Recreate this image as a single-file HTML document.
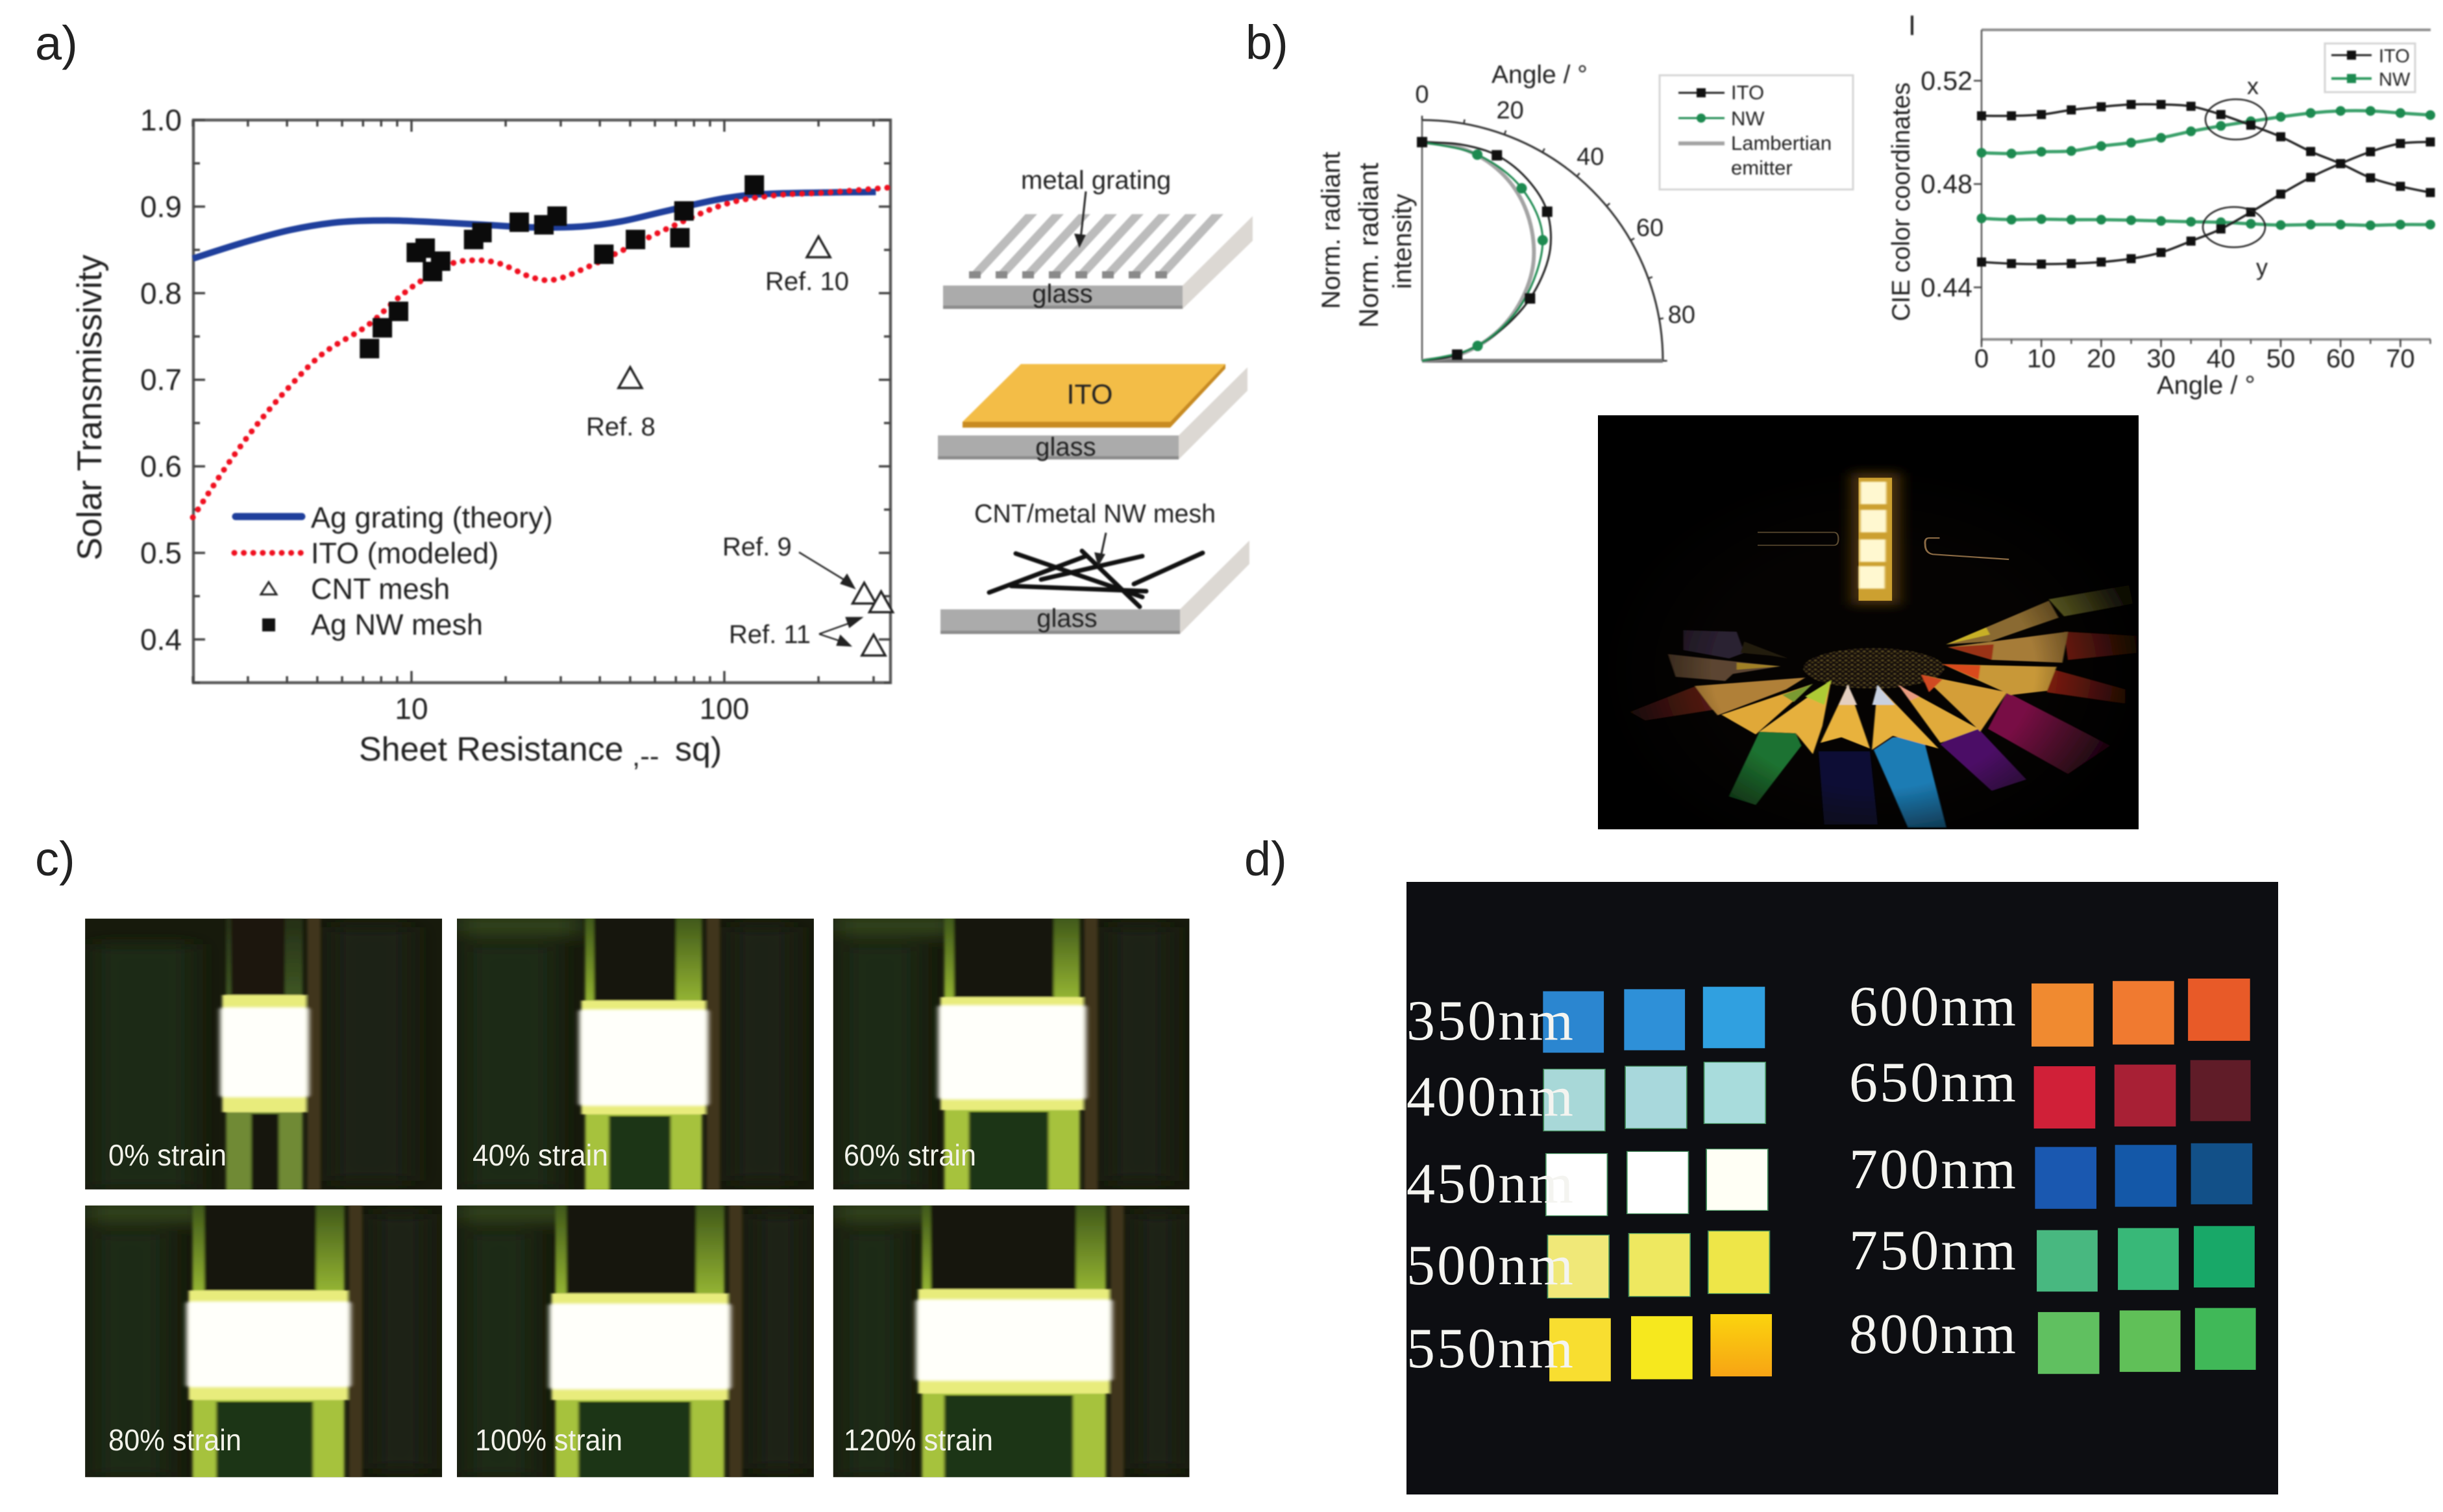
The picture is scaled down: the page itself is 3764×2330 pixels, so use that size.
<!DOCTYPE html>
<html lang="en">
<head>
<meta charset="utf-8">
<title>Transparent electrode figure panels a to d</title>
<style>
html,body{margin:0;padding:0;background:#fff;width:3764px;height:2330px;overflow:hidden}
svg{display:block}
text{font-family:"Liberation Sans",sans-serif;fill:#222}
.soft{filter:blur(1px)}
</style>
</head>
<body>
<svg id="figure" xmlns="http://www.w3.org/2000/svg" width="3764" height="2330" viewBox="0 0 3764 2330">
<defs>
<filter id="b2" x="-10%" y="-10%" width="120%" height="120%"><feGaussianBlur stdDeviation="2"/></filter>
<filter id="b3" x="-20%" y="-20%" width="140%" height="140%"><feGaussianBlur stdDeviation="3"/></filter>
<filter id="b5" x="-30%" y="-30%" width="160%" height="160%"><feGaussianBlur stdDeviation="5"/></filter>
<filter id="b10" x="-50%" y="-50%" width="200%" height="200%"><feGaussianBlur stdDeviation="10"/></filter>
<filter id="b18" x="-60%" y="-60%" width="220%" height="220%"><feGaussianBlur stdDeviation="18"/></filter>
<clipPath id="clip-led"><rect x="2462" y="640" width="833" height="638"/></clipPath>
<pattern id="beads" width="16" height="16" patternUnits="userSpaceOnUse"><rect width="16" height="16" fill="#14100a"/><circle cx="5" cy="5" r="3.2" fill="#5a4c20"/><circle cx="13" cy="12" r="3.2" fill="#463a16"/></pattern>
<linearGradient id="amber" x1="0" y1="0" x2="0" y2="1"><stop offset="0" stop-color="#fbd40e"/><stop offset="1" stop-color="#f7a414"/></linearGradient>
<linearGradient id="lime-top" x1="0" y1="0" x2="0" y2="1"><stop offset="0" stop-color="#3c5418"/><stop offset="1" stop-color="#93b332"/></linearGradient>
<linearGradient id="lime-top-dim" x1="0" y1="0" x2="0" y2="1"><stop offset="0" stop-color="#232c16"/><stop offset="1" stop-color="#3e5622"/></linearGradient>
<radialGradient id="photo-fade" gradientUnits="userSpaceOnUse" cx="830" cy="950" r="730"><stop offset="0" stop-color="#050302" stop-opacity="0"/><stop offset=".58" stop-color="#050302" stop-opacity="0"/><stop offset=".98" stop-color="#050302" stop-opacity=".96"/></radialGradient>
</defs>
<rect width="3764" height="2330" fill="#fff"/>

<g>
<text x="54" y="92" font-size="74" fill="#111">a)</text>
<text x="1919" y="91" font-size="74" fill="#111">b)</text>
<text x="54" y="1349" font-size="74" fill="#111">c)</text>
<text x="1917" y="1349" font-size="74" fill="#111">d)</text>
</g>

<!-- Panel a chart -->
<g id="chart-a" class="soft"></g>
<g class="soft">
<text transform="translate(156 628) rotate(-90)" text-anchor="middle" font-size="53" fill="#333">Solar Transmissivity</text>
<text x="553" y="1172" font-size="52" fill="#333">Sheet Resistance</text>
<text x="974" y="1180" font-size="44" fill="#444">,--</text>
<text x="1040" y="1172" font-size="52" fill="#333">sq)</text>
<text x="479" y="813" font-size="45" fill="#333">Ag grating (theory)</text>
<text x="479" y="868" font-size="45" fill="#333">ITO (modeled)</text>
<text x="479" y="923" font-size="45" fill="#333">CNT mesh</text>
<text x="479" y="978" font-size="45" fill="#333">Ag NW mesh</text>
<line x1="363" y1="796" x2="465" y2="796" stroke="#1f3f9c" stroke-width="11" stroke-linecap="round"/>
<line x1="361" y1="852" x2="466" y2="852" stroke="#f01020" stroke-width="9" stroke-dasharray="0.1 14.5" stroke-linecap="round"/>
<polygon points="414,897 402,916 426,916" fill="none" stroke="#222" stroke-width="3"/>
<rect x="404" y="953" width="20" height="20" fill="#111"/>
<text x="1179" y="447" font-size="40" fill="#333">Ref. 10</text>
<text x="903" y="671" font-size="40" fill="#333">Ref. 8</text>
<text x="1113" y="856" font-size="40" fill="#333">Ref. 9</text>
<text x="1123" y="991" font-size="40" fill="#333">Ref. 11</text>
<g stroke="#222" stroke-width="2.5" fill="#222">
<line x1="1231" y1="851" x2="1308" y2="898"/><polygon points="1316,906 1296,899 1305,886"/>
<line x1="1262" y1="977" x2="1318" y2="957"/><polygon points="1327,952 1309,966 1304,952"/>
<line x1="1262" y1="977" x2="1301" y2="990"/><polygon points="1310,995 1290,994 1295,980"/>
</g>
</g>

<!-- Schematics -->
<g class="soft">
<g>
<polygon points="1822,440 1930,333 1930,371 1822,476" fill="#dcd8d3"/>
<rect x="1453" y="440" width="369" height="36" fill="#ababab"/>
<rect x="1453" y="471" width="369" height="5" fill="#8c8c8c"/>
<g id="grating-bars"></g>
<text x="1573" y="291" font-size="40" fill="#333">metal grating</text>
<line x1="1673" y1="295" x2="1665" y2="368" stroke="#222" stroke-width="3"/><polygon points="1663,382 1655,360 1673,362" fill="#222"/>
<text x="1637" y="466" text-anchor="middle" font-size="40" fill="#222">glass</text>
</g>
<g>
<polygon points="1816,671 1922,566 1922,602 1816,708" fill="#dcd8d3"/>
<rect x="1445" y="671" width="371" height="37" fill="#ababab"/>
<rect x="1445" y="703" width="371" height="5" fill="#8c8c8c"/>
<polygon points="1483,650 1573,561 1888,561 1803,650" fill="#f3bd47"/>
<polygon points="1483,650 1803,650 1888,561 1888,568 1803,659 1483,659" fill="#c88b22"/>
<text x="1679" y="622" text-anchor="middle" font-size="43" fill="#333">ITO</text>
<text x="1642" y="702" text-anchor="middle" font-size="40" fill="#222">glass</text>
</g>
<g>
<polygon points="1818,939 1925,833 1925,869 1818,977" fill="#dcd8d3"/>
<rect x="1449" y="939" width="369" height="38" fill="#ababab"/>
<rect x="1449" y="972" width="369" height="5" fill="#8c8c8c"/>
<g stroke="#111" stroke-width="7" stroke-linecap="round">
<line x1="1565" y1="853" x2="1760" y2="920"/><line x1="1524" y1="913" x2="1673" y2="857"/><line x1="1558" y1="903" x2="1766" y2="911"/><line x1="1604" y1="893" x2="1760" y2="857"/><line x1="1667" y1="849" x2="1756" y2="935"/><line x1="1747" y1="900" x2="1853" y2="852"/>
</g>
<text x="1501" y="805" font-size="39.4" fill="#333">CNT/metal NW mesh</text>
<line x1="1704" y1="821" x2="1696" y2="858" stroke="#222" stroke-width="3"/><polygon points="1692,873 1686,851 1703,854" fill="#222"/>
<text x="1644" y="966" text-anchor="middle" font-size="40" fill="#222">glass</text>
</g>
</g>

<!-- Panel b polar -->
<g id="chart-polar" class="soft"></g>
<g class="soft" fill="#333">
<text x="2298" y="128" font-size="39" fill="#333">Angle / °</text>
<text transform="translate(2064 355) rotate(-90)" text-anchor="middle" font-size="40" fill="#333">Norm. radiant</text>
<text transform="translate(2123 378) rotate(-90)" text-anchor="middle" font-size="42" fill="#333">Norm. radiant</text>
<text transform="translate(2174 372) rotate(-90)" text-anchor="middle" font-size="40" fill="#333">intensity</text>
<rect x="2557" y="116" width="298" height="176" fill="#fff" stroke="#d5d5d5" stroke-width="3"/>
<line x1="2586" y1="143" x2="2657" y2="143" stroke="#222" stroke-width="3"/>
<rect x="2614" y="136" width="14" height="14" fill="#111"/>
<line x1="2586" y1="182" x2="2657" y2="182" stroke="#1d8a50" stroke-width="3"/>
<circle cx="2621" cy="182" r="7" fill="#1d8a50"/>
<line x1="2586" y1="221" x2="2657" y2="221" stroke="#a3a3a3" stroke-width="6"/>
<text x="2667" y="153" font-size="31" fill="#333">ITO</text>
<text x="2667" y="193" font-size="31" fill="#333">NW</text>
<text x="2667" y="231" font-size="31" fill="#333">Lambertian</text>
<text x="2667" y="269" font-size="31" fill="#333">emitter</text>
</g>

<!-- Panel b CIE -->
<g id="chart-cie" class="soft"></g>
<g class="soft">
<rect x="2944" y="24" width="4" height="30" fill="#222"/>
<text transform="translate(2942 311) rotate(-90)" text-anchor="middle" font-size="38.5" fill="#333">CIE color coordinates</text>
<text x="3323" y="607" font-size="40" fill="#333">Angle / °</text>
<ellipse cx="3445" cy="184" rx="47" ry="31" fill="none" stroke="#222" stroke-width="2.5"/>
<ellipse cx="3442" cy="350" rx="48" ry="31" fill="none" stroke="#222" stroke-width="2.5"/>
<text x="3471" y="145" text-anchor="middle" font-size="36" fill="#333">x</text>
<text x="3485" y="424" text-anchor="middle" font-size="36" fill="#333">y</text>
<rect x="3582" y="67" width="139" height="75" fill="#fff" stroke="#d5d5d5" stroke-width="3"/>
<line x1="3592" y1="85" x2="3654" y2="85" stroke="#222" stroke-width="3"/>
<rect x="3616" y="78" width="14" height="14" fill="#111"/>
<line x1="3592" y1="121" x2="3654" y2="121" stroke="#2f9a60" stroke-width="4"/>
<rect x="3616" y="114" width="14" height="14" fill="#1d8a50"/>
<text x="3665" y="96" font-size="29" fill="#333">ITO</text>
<text x="3665" y="132" font-size="29" fill="#333">NW</text>
</g>

<!-- Panel b photo -->
<g clip-path="url(#clip-led)">
<rect x="2462" y="640" width="833" height="638" fill="#050302"/>
<g transform="translate(2400 620) scale(.5867 .4337)">
<g filter="url(#b2)">
<ellipse cx="830" cy="945" rx="185" ry="72" fill="url(#beads)"/>
<g><polygon points="330,810 470,815 490,890 450,910 330,880" fill="#2a2030"/><polygon points="490,850 605,910 560,900 480,890" fill="#241a10"/></g>
<g><polygon points="290,895 460,920 585,938 460,965 440,990 310,975" fill="#5c4530"/><polygon points="470,925 585,938 470,950" fill="#a08028"/></g>
<g><polygon points="190,1100 360,1010 420,1090 230,1130" fill="#5a1c14"/><polygon points="650,978 360,1008 400,1080 420,1112 600,1020" fill="#b08038"/></g>
<g><polygon points="670,1000 430,1110 520,1180" fill="#e0a838"/><polygon points="670,1000 590,1040 620,1065" fill="#7a9a30"/></g>
<g><polygon points="530,1170 625,1175 640,1220 520,1430 450,1400" fill="#1e7230"/><polygon points="718,988 530,1170 625,1175 670,1250 695,1150" fill="#e6b03c"/><polygon points="718,988 650,1045 700,1075" fill="#aecb35"/></g>
<g><polygon points="685,1240 820,1240 840,1500 700,1500" fill="#0b1034"/><polygon points="762,1003 690,1210 745,1190 820,1230" fill="#e8b23c"/><polygon points="762,1003 738,1075 786,1075" fill="#e4cfc0"/></g>
<g><polygon points="830,1235 880,1190 960,1190 1020,1510 920,1510" fill="#1c7cb4"/><polygon points="840,1005 825,1235 880,1185 1000,1230" fill="#e6b03c"/><polygon points="840,1005 826,1075 885,1075" fill="#c8d0e0"/></g>
<g><polygon points="1005,1215 1060,1165 1105,1160 1230,1340 1140,1380" fill="#4c1066"/><polygon points="895,1005 1005,1210 1105,1160" fill="#e0aa3a"/><polygon points="895,1005 925,1060 950,1045" fill="#e89a80"/></g>
<g><polygon points="1130,1160 1180,1030 1450,1220 1340,1320" fill="#781044"/><polygon points="955,968 1110,1170 1180,1030" fill="#d49e38"/><polygon points="955,968 1010,985 975,1030" fill="#d04a20"/></g>
<g><polygon points="1290,945 1490,1020 1490,1070 1285,1030" fill="#8c1f10"/><polygon points="1010,930 1310,940 1285,1025 1190,1040" fill="#c89838"/><polygon points="1010,930 1110,935 1105,985" fill="#d8481c"/></g>
<g><polygon points="1330,815 1520,830 1520,890 1340,915" fill="#8a2210"/><polygon points="1025,870 1340,815 1325,925 1140,915" fill="#a67c38"/><polygon points="1025,870 1145,860 1140,915" fill="#9a3012"/></g>
<g><polygon points="1290,700 1500,650 1510,715 1330,760" fill="#7a7a2c"/><polygon points="1020,860 1290,705 1315,765 1135,850" fill="#8a6a30"/><polygon points="1020,860 1125,800 1135,825" fill="#c8b028"/></g>
<rect x="100" y="45" width="1430" height="1480" fill="url(#photo-fade)"/>
</g>
<rect x="770" y="250" width="130" height="470" fill="#4a3008" filter="url(#b18)"/>
<rect x="790" y="268" width="88" height="437" fill="#cca030"/>
<g filter="url(#b3)">
<rect x="795" y="282" width="68" height="80" fill="#fff8d0"/>
<rect x="795" y="382" width="68" height="80" fill="#fff8d0"/>
<rect x="793" y="487" width="68" height="80" fill="#fff8d0"/>
<rect x="791" y="582" width="68" height="80" fill="#fff8d0"/>
</g>
<path d="M525 462H725Q737 462 737 485Q737 508 725 508H525" fill="none" stroke="#5a4a30" stroke-width="4"/>
<path d="M1003 482H975Q963 482 965 505Q965 535 985 540L1185 558" fill="none" stroke="#8a6a44" stroke-width="5"/>
</g>
</g>

<!-- Panel c -->
<g id="strain-photos"></g>

<!-- Panel d -->
<g>
<rect x="2167" y="1359" width="1343" height="944" fill="#0d0e12"/>
<g id="swatches" transform="translate(2130 1340) scale(.8929 .6314)"></g>
<g id="wave-labels"></g>
</g>
</svg>

<script>
var NS = 'http://www.w3.org/2000/svg';
function mk(tag, attrs, parent) {
  var el = document.createElementNS(NS, tag);
  for (var k in attrs) el.setAttribute(k, attrs[k]);
  parent.appendChild(el);
  return el;
}
function smoothPath(p) {
  var d = 'M' + p[0][0].toFixed(1) + ' ' + p[0][1].toFixed(1);
  for (var i = 0; i < p.length - 1; i++) {
    var a = p[Math.max(i - 1, 0)], b = p[i], c = p[i + 1], e = p[Math.min(i + 2, p.length - 1)];
    d += 'C' + (b[0] + (c[0] - a[0]) / 6).toFixed(1) + ' ' + (b[1] + (c[1] - a[1]) / 6).toFixed(1) + ' ' +
      (c[0] - (e[0] - b[0]) / 6).toFixed(1) + ' ' + (c[1] - (e[1] - b[1]) / 6).toFixed(1) + ' ' +
      c[0].toFixed(1) + ' ' + c[1].toFixed(1);
  }
  return d;
}

/* ===== Panel a data ===== */
var solarYTicks = [0.4, 0.5, 0.6, 0.7, 0.8, 0.9, 1.0];
var solarYLabels = ['0.4', '0.5', '0.6', '0.7', '0.8', '0.9', '1.0'];
var solarXMajor = [10, 100];
var solarXLabels = ['10', '100'];
var solarXMinor = [2, 3, 4, 5, 6, 7, 8, 9, 20, 30, 40, 50, 60, 70, 80, 90, 200, 300];
var agGratingR = [2, 2.87, 4.1, 5.85, 8.4, 11.95, 17.1, 24.4, 34.9, 46.9, 67.1, 101.6, 145, 305];
var agGratingT = [0.84, 0.858, 0.873, 0.882, 0.884, 0.882, 0.879, 0.876, 0.877, 0.883, 0.896, 0.91, 0.915, 0.917];
var itoR = [2, 2.57, 3.22, 4.05, 5.2, 7.19, 8.9, 10.6, 13.4, 16.1, 19.2, 24.4, 29, 37, 47, 67, 101, 145, 207, 335];
var itoT = [0.541, 0.601, 0.649, 0.691, 0.73, 0.762, 0.792, 0.813, 0.834, 0.838, 0.834, 0.818, 0.816, 0.831, 0.849, 0.876, 0.903, 0.913, 0.916, 0.922];
var cntR = [200, 50, 280, 317, 300];
var cntT = [0.852, 0.701, 0.452, 0.442, 0.392];
var nwR = [7.34, 8.07, 9.09, 10.36, 11.06, 11.67, 12.39, 15.8, 16.8, 22.1, 26.5, 29.2, 41.2, 52, 72.1, 74.3, 124.7];
var nwT = [0.736, 0.76, 0.779, 0.847, 0.852, 0.825, 0.837, 0.862, 0.87, 0.882, 0.879, 0.889, 0.845, 0.862, 0.864, 0.895, 0.925];

/* ===== Polar data ===== */
var polarTickAngles = [0, 10, 20, 30, 40, 50, 60, 70, 80, 90];
var polarLabelAngles = ['0', '20', '40', '60', '80'];
var itoPolarAngle = [0, 10, 20, 30, 40, 50, 60, 70, 80, 90];
var itoPolarValue = [1, 1.005, 1, 0.96, 0.89, 0.76, 0.57, 0.36, 0.163, 0];
var itoPolarMarkers = [0, 20, 40, 60, 80];
var nwPolarAngle = [0, 15, 30, 45, 60, 75, 90];
var nwPolarValue = [1, 0.976, 0.911, 0.78, 0.53, 0.263, 0];
var nwPolarMarkers = [15, 30, 45, 75];
var lambertAngle = [0, 10, 20, 30, 40, 50, 60, 70, 80, 90];
var lambertValue = [1, 0.99, 0.95, 0.88, 0.78, 0.66, 0.51, 0.35, 0.18, 0];

/* ===== CIE data ===== */
var cieAngles = [0, 5, 10, 15, 20, 25, 30, 35, 40, 45, 50, 55, 60, 65, 70, 75];
var cieXTicks = [0, 10, 20, 30, 40, 50, 60, 70];
var cieYTicks = [0.44, 0.48, 0.52];
var cieYLabels = ['0.44', '0.48', '0.52'];
var itoX = [0.5064, 0.5064, 0.5069, 0.5087, 0.5099, 0.5108, 0.5108, 0.5101, 0.5069, 0.5028, 0.4983, 0.4926, 0.4879, 0.4824, 0.4791, 0.4767];
var itoY = [0.4498, 0.4492, 0.449, 0.4492, 0.4498, 0.4511, 0.4535, 0.4579, 0.4626, 0.4691, 0.4761, 0.4826, 0.4879, 0.4925, 0.4957, 0.4963];
var nwX = [0.4921, 0.4918, 0.4925, 0.4928, 0.4947, 0.496, 0.4979, 0.5004, 0.5025, 0.5043, 0.506, 0.5075, 0.5083, 0.5083, 0.5075, 0.5067];
var nwY = [0.4667, 0.4662, 0.4664, 0.4662, 0.4662, 0.466, 0.4657, 0.4654, 0.4652, 0.4646, 0.4641, 0.4643, 0.4643, 0.464, 0.4643, 0.4643];

/* ---- Panel a axis functions ---- */
function aX(r) { return 634 + (Math.log10(r) - 1) * 482; }
function aY(t) { return 185 + (1 - t) * 1334; }
function pairs(xs, ys, fx, fy) {
  return xs.map(function (v, i) { return [fx(v), fy(ys[i])]; });
}
(function () {
  var g = document.getElementById('chart-a');
  var frame = mk('rect', { x: 298, y: 185, width: 1074, height: 867, fill: 'none', stroke: '#5a5a5a', 'stroke-width': 4.5 }, g);
  
  
  function tick(x1, y1, x2, y2, name) {
    var t = mk('line', { x1: x1, y1: y1, x2: x2, y2: y2, stroke: '#444', 'stroke-width': 3.5 }, g);
    
    
  }
  solarXMajor.forEach(function (v, i) {
    tick(aX(v), 1052, aX(v), 1034, 'x-major-tick');
    tick(aX(v), 185, aX(v), 203, 'x-major-tick-top');
    var l = mk('text', { x: aX(v), y: 1108, 'text-anchor': 'middle', 'font-size': 46, fill: '#333' }, g);
    l.textContent = solarXLabels[i];
    
    
  });
  solarXMinor.forEach(function (v) {
    tick(aX(v), 1052, aX(v), 1042, 'x-minor-tick');
    tick(aX(v), 185, aX(v), 195, 'x-minor-tick-top');
  });
  solarYTicks.forEach(function (v, i) {
    tick(298, aY(v), 316, aY(v), 'y-major-tick');
    tick(1372, aY(v), 1354, aY(v), 'y-major-tick-right');
    tick(298, aY(v - 0.05), 308, aY(v - 0.05), 'y-minor-tick');
    tick(1372, aY(v - 0.05), 1362, aY(v - 0.05), 'y-minor-tick-right');
    var l = mk('text', { x: 280, y: aY(v) + 16, 'text-anchor': 'end', 'font-size': 46, fill: '#333' }, g);
    l.textContent = solarYLabels[i];
    
    
  });
  var ag = mk('path', { d: smoothPath(pairs(agGratingR, agGratingT, aX, aY)), fill: 'none', stroke: '#1f3f9c', 'stroke-width': 10 }, g);
  
  
  var ito = mk('path', { d: smoothPath(pairs(itoR, itoT, aX, aY)), fill: 'none', stroke: '#f01020', 'stroke-width': 9, 'stroke-dasharray': '0.1 14.5', 'stroke-linecap': 'round' }, g);
  
  
  nwR.forEach(function (r, i) {
    var s = mk('rect', { x: aX(r) - 15, y: aY(nwT[i]) - 15, width: 30, height: 30, fill: '#0b0b0b' }, g);
    
    
  });
  cntR.forEach(function (r, i) {
    var x = aX(r), y = aY(cntT[i]);
    var t = mk('polygon', { points: x + ',' + (y - 18) + ' ' + (x - 18) + ',' + (y + 14) + ' ' + (x + 18) + ',' + (y + 14), fill: '#fff', stroke: '#222', 'stroke-width': 3.5 }, g);
    
    
  });
})();

/* Grating bars */
(function () {
  var g = document.getElementById('grating-bars');
  for (var i = 0; i < 8; i++) {
    var bx = 1493 + 41 * i, tx = 1580 + 41 * i;
    var bar = mk('polygon', { points: bx + ',424 ' + (bx + 18) + ',424 ' + (tx + 18) + ',330 ' + tx + ',330', fill: '#bcbcbc' }, g);
    
    
    var cap = mk('rect', { x: bx, y: 418, width: 18, height: 11, fill: '#8a8a8a' }, g);
    
    
  }
})();

/* ---- Polar axis functions ---- */
function polarPoint(deg, val) {
  var a = deg * Math.PI / 180, r = val * 337;
  return [2191 + r * Math.sin(a), 556 - r * Math.cos(a)];
}
function polarPairs(angles, vals) {
  return angles.map(function (a, i) { return polarPoint(a, vals[i]); });
}
(function () {
  var g = document.getElementById('chart-polar');
  var rim = 371 / 337;
  var arc = mk('path', { d: 'M2191 185A371 371 0 0 1 2562 556', fill: 'none', stroke: '#333', 'stroke-width': 3 }, g);
  
  
  var ax1 = mk('line', { x1: 2191, y1: 185, x2: 2191, y2: 556, stroke: '#555', 'stroke-width': 2.5 }, g);
  
  
  var ax2 = mk('line', { x1: 2191, y1: 556, x2: 2562, y2: 556, stroke: '#777', 'stroke-width': 6 }, g);
  
  
  polarTickAngles.forEach(function (a) {
    var p = polarPoint(a, rim), q = polarPoint(a, rim * 1.018);
    var t = mk('line', { x1: p[0], y1: p[1], x2: q[0], y2: q[1], stroke: '#333', 'stroke-width': 2.5 }, g);
    
    
  });
  polarLabelAngles.forEach(function (lab) {
    var a = Number(lab), p = polarPoint(a, rim * 1.09 + 0.02);
    var t = mk('text', { x: p[0] + (a > 0 ? -5 : 0), y: p[1] + 13, 'text-anchor': 'middle', 'font-size': 38, fill: '#333' }, g);
    t.textContent = lab;
    
    
  });
  var lam = mk('path', { d: smoothPath(polarPairs(lambertAngle, lambertValue)), fill: 'none', stroke: '#a3a3a3', 'stroke-width': 6 }, g);
  
  
  var ito = mk('path', { d: smoothPath(polarPairs(itoPolarAngle, itoPolarValue)), fill: 'none', stroke: '#222', 'stroke-width': 3 }, g);
  
  
  var nw = mk('path', { d: smoothPath(polarPairs(nwPolarAngle, nwPolarValue)), fill: 'none', stroke: '#1d8a50', 'stroke-width': 3 }, g);
  
  
  itoPolarAngle.forEach(function (a, i) {
    if (itoPolarMarkers.indexOf(a) < 0) return;
    var p = polarPoint(a, itoPolarValue[i]);
    var m = mk('rect', { x: p[0] - 8, y: p[1] - 8, width: 16, height: 16, fill: '#111' }, g);
    
    
  });
  nwPolarAngle.forEach(function (a, i) {
    if (nwPolarMarkers.indexOf(a) < 0) return;
    var p = polarPoint(a, nwPolarValue[i]);
    var m = mk('circle', { cx: p[0], cy: p[1], r: 8, fill: '#1d8a50' }, g);
    
    
  });
})();

/* ---- CIE axis functions ---- */
function cX(a) { return 3053 + a * 9.22; }
function cY(v) { return 124.4 + (0.52 - v) * 3980; }
(function () {
  var g = document.getElementById('chart-cie');
  function seg(x1, y1, x2, y2, col, w, name) {
    var t = mk('line', { x1: x1, y1: y1, x2: x2, y2: y2, stroke: col, 'stroke-width': w }, g);
    
    
  }
  seg(3053, 46, 3745, 46, '#8d8d8d', 4, 'cie-top-frame');
  seg(3053, 523, 3745, 523, '#8d8d8d', 4, 'cie-x-axis');
  seg(3053, 46, 3053, 523, '#555', 2.5, 'cie-y-axis');
  cieAngles.forEach(function (a) { seg(cX(a), 523, cX(a), 530, '#555', 2.5, 'cie-x-minor-tick'); });
  cieXTicks.forEach(function (a) {
    seg(cX(a), 523, cX(a), 535, '#444', 2.5, 'cie-x-tick');
    var t = mk('text', { x: cX(a), y: 566, 'text-anchor': 'middle', 'font-size': 40, fill: '#333' }, g);
    t.textContent = String(a);
    
    
  });
  cieYTicks.forEach(function (v, i) {
    seg(3041, cY(v), 3053, cY(v), '#444', 2.5, 'cie-y-tick');
    var t = mk('text', { x: 3039, y: cY(v) + 14, 'text-anchor': 'end', 'font-size': 41, fill: '#333' }, g);
    t.textContent = cieYLabels[i];
    
    
  });
  function series(vals, col, w, shape, name) {
    var l = mk('path', { d: smoothPath(pairs(cieAngles, vals, cX, cY)), fill: 'none', stroke: col, 'stroke-width': w }, g);
    
    
    cieAngles.forEach(function (a, i) {
      var x = cX(a), y = cY(vals[i]), m;
      if (shape === 'sq') m = mk('rect', { x: x - 7, y: y - 7, width: 14, height: 14, fill: '#111' }, g);
      else m = mk('circle', { cx: x, cy: y, r: 7.5, fill: '#1d8a50' }, g);
      
      
    });
  }
  series(nwX, '#3aa06a', 5, 'c', 'nw-x');
  series(nwY, '#3aa06a', 5, 'c', 'nw-y');
  series(itoX, '#222', 3.5, 'sq', 'ito-x');
  series(itoY, '#222', 3.5, 'sq', 'ito-y');
})();

/* ---- Panel c photos (coordinates in crop space) ---- */
var strainLabels = ['0% strain', '40% strain', '60% strain', '80% strain', '100% strain', '120% strain'];
var strainLabelWidths = [182, 209, 204, 205, 227, 230];
var frames = [[62, 541, 176, 811], [561, 1040, 176, 811], [1066, 1544, 176, 811], [62, 541, 849, 1486], [561, 1040, 849, 1486], [1066, 1544, 849, 1486]];
var bright = [[243, 362, 390, 585], [725, 898, 395, 605], [1207, 1405, 385, 590], [198, 418, 1080, 1265], [685, 928, 1085, 1270], [1177, 1440, 1075, 1250]];
var bands = [[355, 630], [368, 635], [360, 625], [1048, 1305], [1055, 1305], [1045, 1290]];
var topCh = [[258, 330], [745, 855], [1228, 1362], [222, 372], [708, 882], [1197, 1392]];
var botCh = [[285, 322], [765, 848], [1248, 1355], [238, 368], [724, 875], [1215, 1388]];
var strainLabelX = [167, 728, 1300, 167, 732, 1300];
var strainLabelY = [1796, 1796, 1796, 2235, 2235, 2235];
(function () {
  var root = document.getElementById('strain-photos');
  frames.forEach(function (f, i) {
    var b = bright[i], bd = bands[i], tc = topCh[i], bc = botCh[i];
    var clipId = 'clip-strain-' + i;
    var cp = mk('clipPath', { id: clipId }, root);
    mk('rect', { x: 60 + f[0] * 1.148, y: 1300 + f[2] * 0.657, width: (f[1] - f[0]) * 1.148, height: (f[3] - f[2]) * 0.657 }, cp);
    var outer = mk('g', { 'clip-path': 'url(#' + clipId + ')' }, root);
    
    
    var g = mk('g', { transform: 'translate(60 1300) scale(1.148 .657)' }, outer);
    var w = f[1] - f[0], h = f[3] - f[2];
    var dim = i === 0;
    mk('rect', { x: f[0] - 10, y: f[2] - 10, width: w + 20, height: h + 20, fill: '#171a0c' }, g);
    var shade = mk('g', { filter: 'url(#b18)' }, g);
    mk('rect', { x: f[0] + 10, y: f[2] + 60, width: (b[0] - f[0]) * 0.75, height: h - 60, fill: '#1f2a14' }, shade);
    mk('rect', { x: b[1] + 30, y: f[2] + 20, width: (f[1] - b[1]) * 0.6, height: h - 40, fill: '#1e2412' }, shade);
    if (!dim) mk('rect', { x: f[0], y: f[2] - 10, width: w * 0.35, height: 50, fill: '#33451f' }, shade);
    var inner = mk('g', { filter: 'url(#b2)' }, g);
    mk('rect', { x: b[1] - 2, y: f[2] - 10, width: 18, height: h + 20, fill: '#41351a' }, inner);
    mk('rect', { x: b[0] + 8, y: f[2] - 10, width: b[1] - b[0] - 16, height: bd[0] - f[2] + 10, fill: dim ? 'url(#lime-top-dim)' : 'url(#lime-top)' }, inner);
    mk('rect', { x: tc[0], y: f[2] - 10, width: tc[1] - tc[0], height: bd[0] - f[2] + 10, fill: dim ? '#1e1810' : '#161208' }, inner);
    mk('rect', { x: b[0] + 8, y: bd[1] - 6, width: b[1] - b[0] - 16, height: f[3] - bd[1] + 16, fill: dim ? '#6f8a36' : '#a6c23e' }, inner);
    mk('rect', { x: bc[0], y: bd[1] + 4, width: bc[1] - bc[0], height: f[3] - bd[1] + 10, fill: dim ? '#12170a' : '#1f3517' }, inner);
    var band = mk('rect', { x: b[0] + 3, y: bd[0], width: b[1] - b[0] - 6, height: bd[1] - bd[0], fill: '#e8ec7c' }, inner);
    
    
    var wh = mk('rect', { x: b[0], y: b[2] - 6, width: b[1] - b[0], height: b[3] - b[2] + 16, fill: '#fffffa', rx: 6, filter: 'url(#b3)' }, inner);
    
    
    var t = mk('text', { x: strainLabelX[i], y: strainLabelY[i], 'font-size': 46, textLength: strainLabelWidths[i], lengthAdjust: 'spacingAndGlyphs', style: 'fill:#f2f2ea' }, root);
    t.textContent = strainLabels[i];
    
    
  });
})();

/* ---- Panel d swatches (coordinates in crop space) ---- */
var swatchRows = [
  [[277, 382, 297, 447, '#2b86d0'], [417, 522, 292, 441, '#2e90d8'], [553, 660, 286, 436, '#30a0e0']],
  [[278, 384, 487, 638, '#a8d8d8'], [419, 525, 480, 632, '#a8d8dc'], [555, 661, 470, 620, '#a8dcdc']],
  [[282, 388, 693, 845, '#ffffff'], [422, 528, 688, 840, '#ffffff'], [559, 665, 682, 832, '#fffff5']],
  [[285, 391, 892, 1046, '#f0e878'], [425, 531, 888, 1042, '#eee860'], [562, 668, 882, 1035, '#eee648']],
  [[288, 394, 1095, 1249, '#f8de30'], [429, 535, 1090, 1244, '#f6e81e'], [566, 672, 1085, 1237, 'url(#amber)']],
  [[1120, 1227, 278, 432, '#f08a30'], [1260, 1366, 272, 427, '#f07a30'], [1390, 1497, 266, 418, '#e85a28']],
  [[1124, 1230, 480, 632, '#d02038'], [1263, 1369, 476, 627, '#a82035'], [1394, 1498, 465, 614, '#601c28']],
  [[1126, 1232, 677, 828, '#1a58b0'], [1264, 1370, 672, 823, '#1458a8'], [1395, 1501, 668, 817, '#125088']],
  [[1129, 1234, 880, 1030, '#48b880'], [1269, 1374, 875, 1026, '#38b878'], [1400, 1505, 870, 1020, '#18a868']],
  [[1131, 1237, 1080, 1231, '#60c060'], [1272, 1377, 1076, 1226, '#60c058'], [1402, 1507, 1070, 1221, '#40b858']]
];
var waveNames = ['350nm', '400nm', '450nm', '500nm', '550nm', '600nm', '650nm', '700nm', '750nm', '800nm'];
var waveX = [2167, 2167, 2167, 2167, 2167, 2849, 2849, 2849, 2849, 2849];
var waveY = [1602, 1719, 1853, 1979, 2107, 1580, 1697, 1831, 1956, 2085];
(function () {
  var g = document.getElementById('swatches');
  var lab = document.getElementById('wave-labels');
  swatchRows.forEach(function (row, r) {
    row.forEach(function (s) {
      var glow = r >= 1 && r <= 3;
      var el = mk('rect', { x: s[0], y: s[2], width: s[1] - s[0], height: s[3] - s[2], fill: s[4] }, g);
      if (glow) { el.setAttribute('stroke', '#3f8a58'); el.setAttribute('stroke-width', '2'); }
      
      
    });
    var t = mk('text', { x: waveX[r], y: waveY[r], 'font-size': 88, textLength: 257, lengthAdjust: 'spacing', style: 'fill:#f4f4f0;font-family:\'Liberation Serif\',serif' }, lab);
    t.textContent = waveNames[r];
    
    
  });
})();
</script>
</body>
</html>
